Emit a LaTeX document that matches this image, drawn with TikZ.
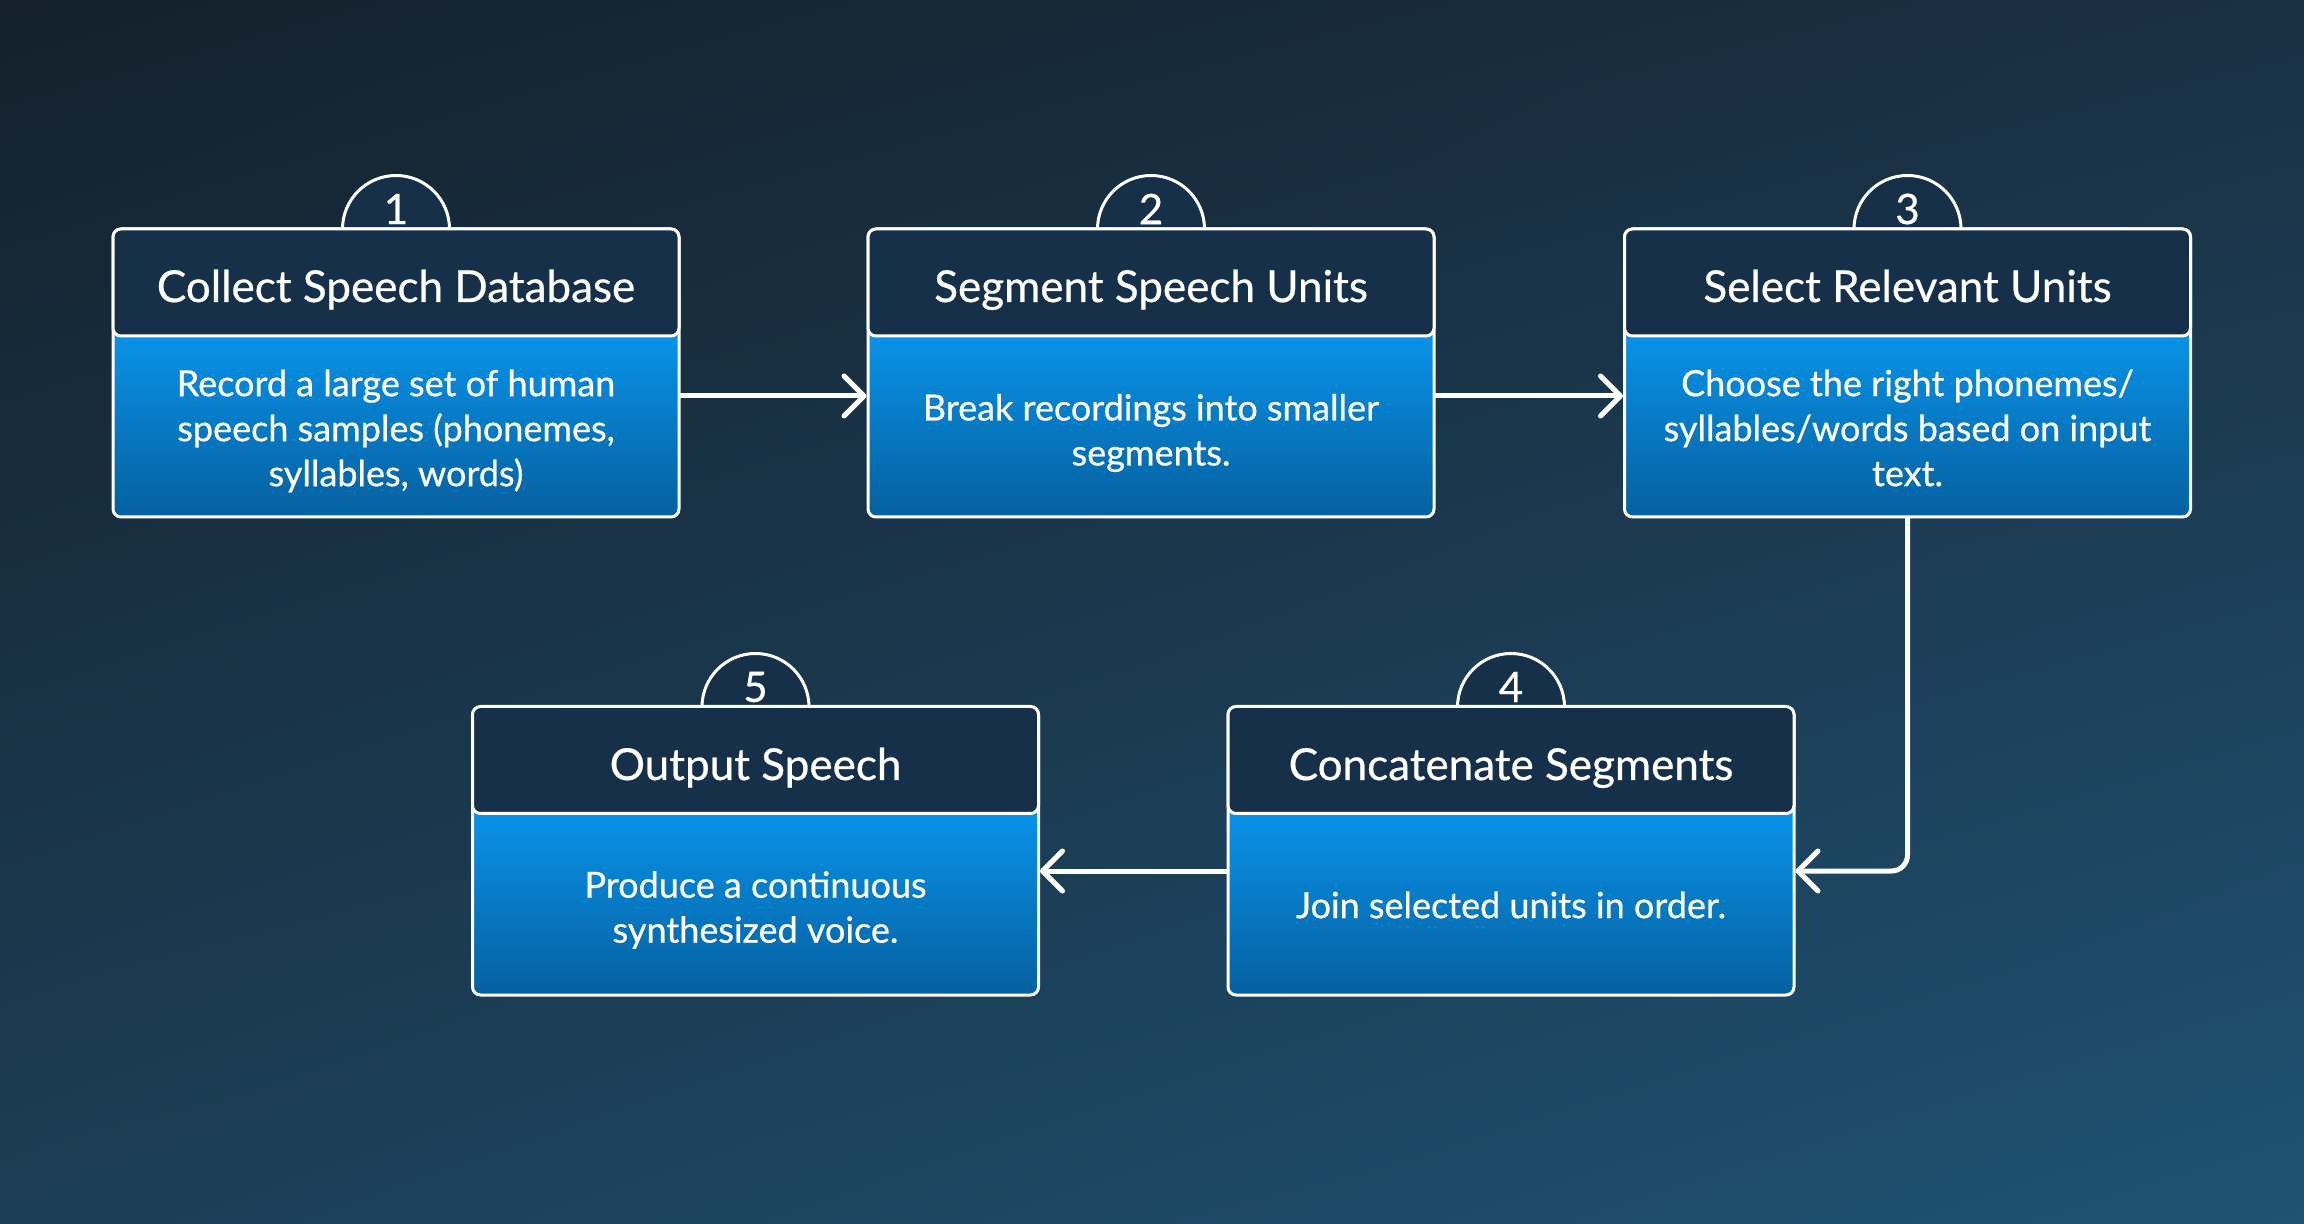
\documentclass[tikz,border=0pt]{standalone}
\usepackage{fontspec}
\setmainfont{Lato}
\newfontfamily\medfont{Lato}[FakeBold=0.6]
\usetikzlibrary{arrows.meta,shadings}
\definecolor{bgTL}{HTML}{14212C}
\definecolor{bgTR}{HTML}{1A3043}
\definecolor{bgBL}{HTML}{1C3E56}
\definecolor{bgBR}{HTML}{1F5273}
\definecolor{hdr}{HTML}{16304A}
\definecolor{bodyTop}{HTML}{0992E7}
\definecolor{bodyBot}{HTML}{05609F}
\pgfdeclareverticalshading{bodyshade}{100bp}{color(0bp)=(bodyBot); color(25bp)=(bodyBot); color(56.4bp)=(bodyTop); color(100bp)=(bodyTop)}
\begin{document}
\begin{tikzpicture}[x=0.5pt,y=-0.5pt,
  bodybox/.style={draw=white, line width=1.5pt, rounded corners=4pt, shading=bodyshade, minimum width=283pt, minimum height=144pt, inner sep=0pt},
  headbox/.style={draw=white, line width=1.5pt, rounded corners=4pt, fill=hdr, minimum width=283pt, minimum height=53.5pt, inner sep=0pt},
  numcirc/.style={circle, draw=white, line width=1.5pt, fill=hdr, minimum size=53.5pt, inner sep=0pt},
  numtext/.style={text=white, font=\medfont\fontsize{21}{24}\selectfont, inner sep=0pt},
  titletext/.style={text=white, font=\medfont\fontsize{22}{26}\selectfont, inner sep=0pt, anchor=base},
  bodytext/.style={text=white, font=\medfont\fontsize{18}{22.5}\selectfont, align=center, inner sep=0pt},
  conn/.style={draw=white, line width=2.5pt, line cap=round, -{Straight Barb[length=10pt,width=20pt,round]}}
]
\useasboundingbox (0,0) rectangle (2304,1224);
\shade[upper left=bgTL, upper right=bgTR, lower left=bgBL, lower right=bgBR] (0,0) rectangle (2304,1224);

% circles
\node[numcirc] (c1) at (396,229) {};
\node[numcirc] (c2) at (1151,229) {};
\node[numcirc] (c3) at (1907.5,229) {};
\node[numcirc] (c4) at (1511,707) {};
\node[numcirc] (c5) at (755.5,707) {};

% bodies
\node[bodybox] (b1) at (396,373) {};
\node[bodybox] (b2) at (1151,373) {};
\node[bodybox] (b3) at (1907.5,373) {};
\node[bodybox] (b4) at (1511,851) {};
\node[bodybox] (b5) at (755.5,851) {};

% headers
\node[headbox] (h1) at (396,282.5) {};
\node[headbox] (h2) at (1151,282.5) {};
\node[headbox] (h3) at (1907.5,282.5) {};
\node[headbox] (h4) at (1511,760) {};
\node[headbox] (h5) at (755.5,760) {};

% numbers
\node[numtext] (n1) at (396,209) {1};
\node[numtext] (n2) at (1151,209) {2};
\node[numtext] (n3) at (1907.5,209) {3};
\node[numtext] (n4) at (1511,687) {4};
\node[numtext] (n5) at (755.5,687) {5};

% titles
\node[titletext] (t1) at (396,302) {Collect Speech Database};
\node[titletext] (t2) at (1151,302) {Segment Speech Units};
\node[titletext] (t3) at (1907.5,302) {Select Relevant Units};
\node[titletext] (t4) at (1511,780) {Concatenate Segments};
\node[titletext] (t5) at (755.5,780) {Output Speech};

% body texts
\node[bodytext] (d1) at (396,431) {Record a large set of human\\speech samples (phonemes,\\syllables, words)};
\node[bodytext] (d2) at (1151,433) {Break recordings into smaller\\segments.};
\node[bodytext] (d3) at (1907.5,428) {Choose the right phonemes/\\syllables/words based on input\\text.};
\node[bodytext] (d4) at (1511,905) {Join selected units in order.};
\node[bodytext] (d5) at (755.5,910) {Produce a continuous\\synthesized voice.};

% connectors
\draw[conn] ([yshift=-11.5pt]b1.east) -- ([yshift=-11.5pt]b2.west);
\draw[conn] ([yshift=-11.5pt]b2.east) -- ([yshift=-11.5pt]b3.west);
\draw[conn, rounded corners=8pt] (b3.south) |- ([yshift=-10pt]b4.east);
\draw[conn] ([yshift=-10pt]b4.west) -- ([yshift=-10pt]b5.east);
\end{tikzpicture}
\end{document}
